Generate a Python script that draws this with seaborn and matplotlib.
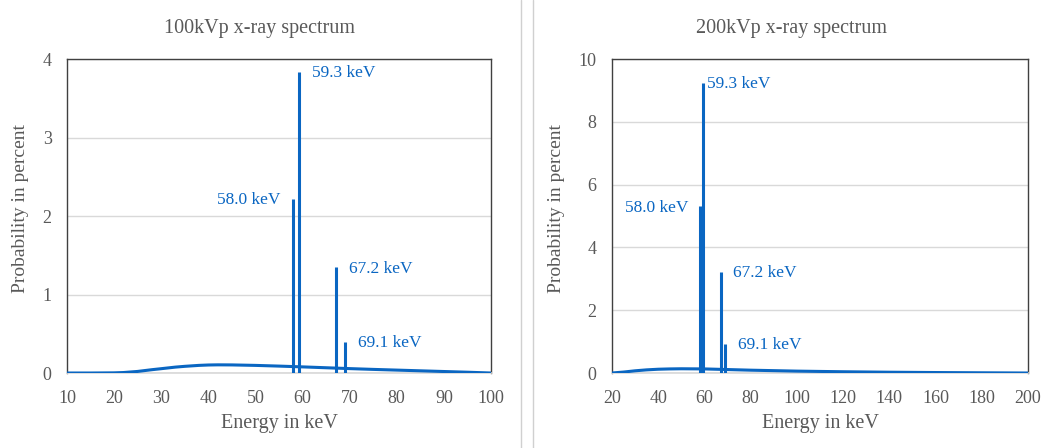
import matplotlib
matplotlib.use("Agg")
import matplotlib.pyplot as plt
from matplotlib.lines import Line2D
import numpy as np
import pandas as pd
import seaborn as sns

# Bremsstrahlung continuum, 100 kVp tube (energy in keV, probability in %)
energy_100 = [10, 15, 20, 22, 25, 28, 30, 33, 35, 38, 40, 42, 45, 50, 55, 60,
              65, 70, 75, 80, 85, 90, 95, 100]
cont_100 = [0.0, 0.0, 0.002, 0.006, 0.02, 0.042, 0.055, 0.075, 0.085, 0.097,
            0.102, 0.104, 0.103, 0.097, 0.088, 0.078, 0.067, 0.056, 0.046,
            0.037, 0.028, 0.019, 0.01, 0.0]

# Bremsstrahlung continuum, 200 kVp tube
energy_200 = [20, 25, 30, 35, 40, 45, 50, 60, 70, 80, 90, 100, 120, 140, 160,
              180, 200]
cont_200 = [0.0, 0.03, 0.07, 0.1, 0.12, 0.13, 0.135, 0.13, 0.11, 0.09, 0.075,
            0.06, 0.04, 0.025, 0.015, 0.007, 0.0]

# Characteristic tungsten lines
line_energy = [58.0, 59.3, 67.2, 69.1]
line_labels = ["58.0 keV", "59.3 keV", "67.2 keV", "69.1 keV"]
peaks_100 = [2.22, 3.83, 1.35, 0.39]
peaks_200 = [5.33, 9.22, 3.23, 0.92]

sns.set_theme(style="white")
plt.rcParams["font.family"] = ["Liberation Serif", "DejaVu Serif"]

BLUE = "#0a66c2"
GREY_TXT = "#595959"
GRID = "#d9d9d9"

fig = plt.figure(figsize=(10.45, 4.48), dpi=100)
ax1 = fig.add_axes([0.0641, 0.1674, 0.4057, 0.7009])
ax2 = fig.add_axes([0.5856, 0.1674, 0.3981, 0.7009])


def draw(ax, energy, cont, peaks, xlim, xticks, ylim, yticks, label_pos,
         title, title_x, ylabel_x):
    df = pd.DataFrame({"Energy": energy, "Probability": cont})
    sns.lineplot(data=df, x="Energy", y="Probability", ax=ax, color=BLUE,
                 linewidth=2.2, zorder=3)
    ax.vlines(line_energy, 0, peaks, color=BLUE, linewidth=2.2, zorder=3)
    for lbl, (tx, ty, ha) in zip(line_labels, label_pos):
        ax.text(tx, ty, lbl, color=BLUE, fontsize=12.5, ha=ha, va="center")
    ax.set_xlim(*xlim)
    ax.set_ylim(*ylim)
    ax.set_xticks(xticks)
    ax.set_yticks(yticks)
    ax.yaxis.grid(True, color=GRID, linewidth=1, zorder=0)
    ax.set_axisbelow(True)
    ax.tick_params(axis="both", length=0, labelsize=13, colors=GREY_TXT)
    ax.tick_params(axis="x", pad=12)
    ax.tick_params(axis="y", pad=11)
    for s in ["left", "right", "top"]:
        ax.spines[s].set_color("#404040")
        ax.spines[s].set_linewidth(1.0)
    ax.spines["bottom"].set_color(GRID)
    ax.set_xlabel("Energy in keV", fontsize=14.5, color=GREY_TXT, labelpad=5)
    ax.set_ylabel("Probability in percent", fontsize=14, color=GREY_TXT)
    ax.yaxis.set_label_coords(ylabel_x, 0.524)
    fig.text(title_x, 1 - 29 / 448, title, fontsize=14.5, color=GREY_TXT,
             ha="center", va="center")


draw(ax1, energy_100, cont_100, peaks_100, (10, 100), range(10, 101, 10),
     (0, 4), range(0, 5),
     [(55.2, 2.2, "right"), (62.0, 3.82, "left"), (69.9, 1.32, "left"),
      (71.8, 0.38, "left")],
     "100kVp x-ray spectrum", 260 / 1045, -0.089)

draw(ax2, energy_200, cont_200, peaks_200, (20, 200), range(20, 201, 20),
     (0, 10), range(0, 11, 2),
     [(52.9, 5.25, "right"), (61.1, 9.2, "left"), (72.4, 3.2, "left"),
      (74.5, 0.9, "left")],
     "200kVp x-ray spectrum", 792 / 1045, -0.114)

# Separator rules between the two panels
for xp in (520.5, 533.0):
    fig.add_artist(Line2D([xp / 1045, xp / 1045], [0, 1], color="#d0d0d0",
                          linewidth=1.0, transform=fig.transFigure))

fig.savefig("out.png", dpi=100)
